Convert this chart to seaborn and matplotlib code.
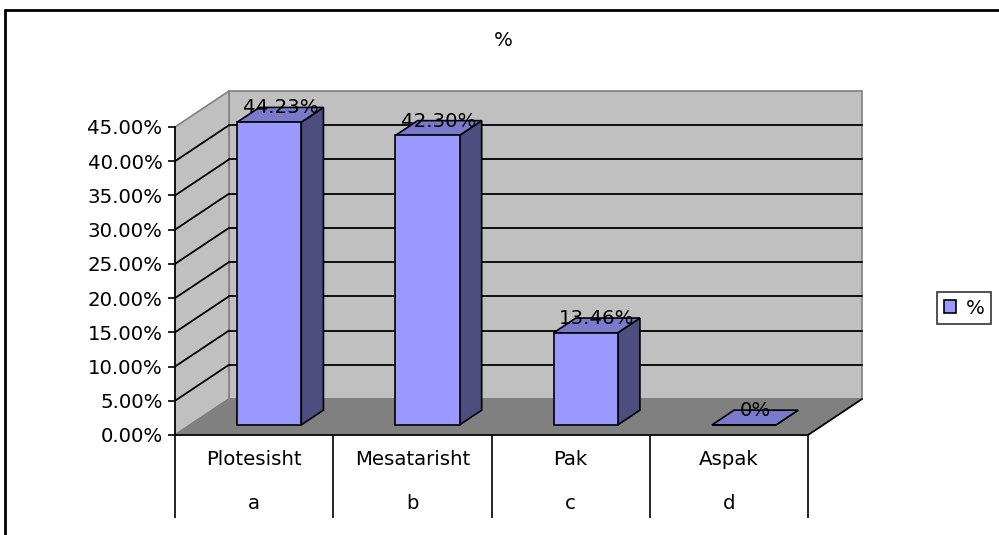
import numpy as np
import pandas as pd
import matplotlib
matplotlib.use("Agg")
import matplotlib.pyplot as plt
import matplotlib.transforms as mtransforms
from matplotlib.patches import Polygon, Patch
from matplotlib.lines import Line2D
import seaborn as sns

# ---- data ----
categories = ["Plotesisht", "Mesatarisht", "Pak", "Aspak"]
letters = ["a", "b", "c", "d"]
values = [44.23, 42.30, 13.46, 0.0]
value_labels = ["44.23%", "42.30%", "13.46%", "0%"]
yticks = [0, 5, 10, 15, 20, 25, 30, 35, 40, 45]
series_name = "%"
title = "%"

# ---- styling ----
FRONT = "#9999FF"
SIDE = "#4D4D80"
TOP = "#7A7ACC"
WALL = "#C0C0C0"
FLOOR = "#808080"
EDGE_GRAY = "#808080"
FS = 14.2

sns.set_style("white")
plt.rcParams["font.family"] = ["DejaVu Sans"]
plt.rcParams["text.color"] = "black"
plt.rcParams["axes.labelcolor"] = "black"
plt.rcParams["xtick.color"] = "black"
plt.rcParams["ytick.color"] = "black"

W, H = 999, 535
fig = plt.figure(figsize=(W / 100, H / 100), dpi=100)
fig.patch.set_facecolor("white")
fig.patch.set_linewidth(0)

# axes = front plane of the 3D box
px0, px1 = 175, 808
py0, py1 = 435, 127
ax = fig.add_axes([px0 / W, 1 - py0 / H, (px1 - px0) / W, (py0 - py1) / H])

df = pd.DataFrame({"cat": categories, "val": values})
sns.barplot(data=df, x="cat", y="val", ax=ax, color=FRONT, width=0.405,
            edgecolor="black", linewidth=1.2, saturation=1)

nc = len(categories)
ymax = yticks[-1]
ax.set_xlim(-0.5, nc - 0.5)
ax.set_ylim(0, ymax)
ax.patch.set_visible(False)

# depth offset in data units (full depth)
DXD = 54 / ((px1 - px0) / nc)
DYD = 36 / ((py0 - py1) / ymax)

def P(x, y, d):
    return (x + d * DXD, y + d * DYD)

xl, xr = -0.5, nc - 0.5

# walls and floor
back = Polygon([P(xl, 0, 1), P(xl, ymax, 1), P(xr, ymax, 1), P(xr, 0, 1)],
               closed=True, facecolor=WALL, edgecolor=EDGE_GRAY, lw=1.2,
               zorder=0.5, clip_on=False)
side = Polygon([P(xl, 0, 0), P(xl, ymax, 0), P(xl, ymax, 1), P(xl, 0, 1)],
               closed=True, facecolor=WALL, edgecolor=EDGE_GRAY, lw=1.2,
               zorder=0.5, clip_on=False)
floor = Polygon([P(xl, 0, 0), P(xr, 0, 0), P(xr, 0, 1), P(xl, 0, 1)],
                closed=True, facecolor=FLOOR, edgecolor=EDGE_GRAY, lw=1.2,
                zorder=0.6, clip_on=False)
bars = list(ax.patches)
for p in (back, side, floor):
    ax.add_patch(p)

# right floor edge (black)
ax.add_line(Line2D(*zip(P(xr, 0, 0), P(xr, 0, 1)), color="black", lw=1.2,
                   zorder=0.8, clip_on=False))

# gridlines on back wall and side wall
for yv in yticks[1:-1]:
    a, b = P(xl, yv, 1), P(xr, yv, 1)
    ax.add_line(Line2D([a[0], b[0]], [a[1], b[1]], color="black", lw=1.3,
                       zorder=0.7, clip_on=False))
    c, d = P(xl, yv, 0), P(xl, yv, 1)
    ax.add_line(Line2D([c[0], d[0]], [c[1], d[1]], color="black", lw=1.3,
                       zorder=0.7, clip_on=False))

# 3D bars: shift front faces to depth d0, add sides and tops
d0, d1 = 0.28, 0.69
for patch in bars:
    bx, bw, bh = patch.get_x(), patch.get_width(), patch.get_height()
    patch.set_x(bx + d0 * DXD)
    patch.set_y(d0 * DYD)
    patch.set_zorder(5)
    patch.set_clip_on(False)
    xr_b = bx + bw
    sidep = Polygon([P(xr_b, 0, d0), P(xr_b, bh, d0), P(xr_b, bh, d1), P(xr_b, 0, d1)],
                    closed=True, facecolor=SIDE, edgecolor="black", lw=1.2,
                    zorder=4, clip_on=False)
    topp = Polygon([P(bx, bh, d0), P(xr_b, bh, d0), P(xr_b, bh, d1), P(bx, bh, d1)],
                   closed=True, facecolor=TOP, edgecolor="black", lw=1.2,
                   zorder=4, clip_on=False)
    ax.add_patch(sidep)
    ax.add_patch(topp)

# value labels
dm = (d0 + d1) / 2
lab_tr = mtransforms.offset_copy(ax.transData, fig=fig, y=7, units="dots")
for i, (v, lab) in enumerate(zip(values, value_labels)):
    x, y = P(i, v, dm)
    ax.text(x, y, lab, transform=lab_tr, ha="center", va="center",
            fontsize=FS, color="black", zorder=6, clip_on=False)

# axes styling
for s in ("top", "right"):
    ax.spines[s].set_visible(False)
ax.spines["left"].set_color("black")
ax.spines["left"].set_linewidth(1.2)
ax.spines["bottom"].set_color("black")
ax.spines["bottom"].set_linewidth(1.2)
ax.spines["left"].set_zorder(3)
ax.spines["bottom"].set_zorder(3)
ax.set_yticks(yticks)
ax.set_yticklabels([f"{t:.2f}%" for t in yticks], fontsize=FS, color="black")
ax.tick_params(axis="y", direction="out", length=5, width=1.2, color="black",
               labelcolor="black", pad=4, left=True)
ax.tick_params(axis="x", length=0, labelbottom=False)
ax.set_xlabel("")
ax.set_ylabel("")
ax.grid(False)

# category table below
xt = ax.get_xaxis_transform()
ax.vlines(np.arange(nc + 1) - 0.5, -0.27, 0, transform=xt, colors="black",
          lw=1.2, clip_on=False)
for i, (c, l) in enumerate(zip(categories, letters)):
    ax.text(i, -0.081, c, transform=xt, ha="center", va="center", fontsize=FS,
            color="black")
    ax.text(i, -0.224, l, transform=xt, ha="center", va="center", fontsize=FS,
            color="black")

# title
fig.text(503 / W, 1 - 41 / H, title, ha="center", va="center", fontsize=FS,
         color="black")

# legend
leg = fig.legend(handles=[Patch(facecolor=FRONT, edgecolor="black", lw=1.2,
                                label=series_name)],
                 loc="center", bbox_to_anchor=(964 / W, 1 - 308 / H),
                 fontsize=FS, frameon=True, fancybox=False, shadow=False,
                 handlelength=0.6, handleheight=0.6, handletextpad=0.5,
                 borderpad=0.35, borderaxespad=0, labelcolor="black")
leg.get_frame().set_edgecolor("black")
leg.get_frame().set_linewidth(1.2)

# outer border (top and left visible)
fig.add_artist(Line2D([5 / W, 1.2], [1 - 10 / H, 1 - 10 / H], color="black",
                      lw=2, transform=fig.transFigure))
fig.add_artist(Line2D([5 / W, 5 / W], [1 - 10 / H, -0.2], color="black",
                      lw=2, transform=fig.transFigure))

fig.savefig("out.png", dpi=100)
